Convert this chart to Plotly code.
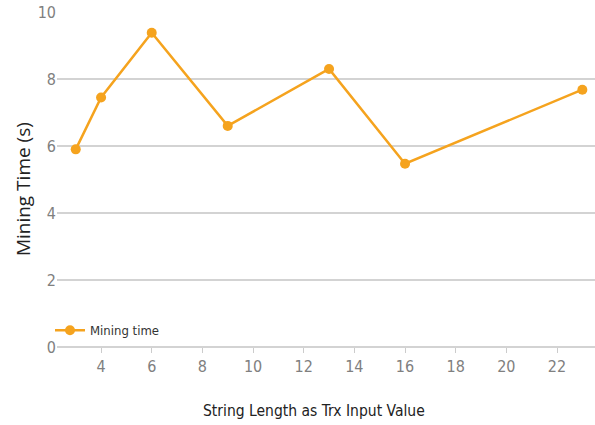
import plotly.graph_objects as go

string_length = [3, 4, 6, 9, 13, 16, 23]
mining_time = [5.9, 7.45, 9.38, 6.6, 8.3, 5.47, 7.68]
x_ticks = [4, 6, 8, 10, 12, 14, 16, 18, 20, 22]
y_ticks = [0, 2, 4, 6, 8, 10]

color = "#F5A31E"
narrow = "Liberation Sans Narrow, DejaVu Sans Condensed, Arial Narrow, sans-serif"

fig = go.Figure()
fig.add_trace(go.Scatter(
    x=string_length, y=mining_time, mode="lines+markers",
    name="Mining time",
    line=dict(color=color, width=2.5),
    marker=dict(color=color, size=10),
))

fig.update_layout(
    width=595, height=425,
    margin=dict(l=57, r=0, t=12, b=78, autoexpand=False),
    paper_bgcolor="white", plot_bgcolor="white",
    font=dict(family=narrow, color="#808080", size=16),
    showlegend=True,
    legend=dict(x=-0.013, y=0.05, xanchor="left", yanchor="middle",
                bgcolor="rgba(0,0,0,0)", font=dict(size=13, color="#333")),
    xaxis=dict(
        range=[2.26, 23.5], tickvals=x_ticks, showgrid=False,
        zeroline=False, showline=False, automargin=False,
        ticks="outside", ticklen=5, tickcolor="#cccccc",
    ),
    yaxis=dict(
        range=[0, 10], tickvals=y_ticks, showgrid=True,
        gridcolor="#d3d3d3", gridwidth=1.5, zeroline=True,
        zerolinecolor="#d3d3d3", zerolinewidth=1.5, automargin=False,
        ticks="",
    ),
    annotations=[
        dict(text="String Length as Trx Input Value", xref="paper", yref="paper",
             x=0.478, y=-0.19, xanchor="center", yanchor="middle", showarrow=False,
             font=dict(family=narrow, size=15.5, color="#222")),
        dict(text="Mining Time (s)", xref="paper", yref="paper",
             x=-0.064, y=0.47, xanchor="center", yanchor="middle", showarrow=False,
             textangle=-90,
             font=dict(family="Open Sans, sans-serif", size=19, color="#222")),
    ],
)

fig.write_html("out.html", config={"displayModeBar": False},
               post_script="document.body.style.margin='0';document.body.style.overflow='hidden';")
